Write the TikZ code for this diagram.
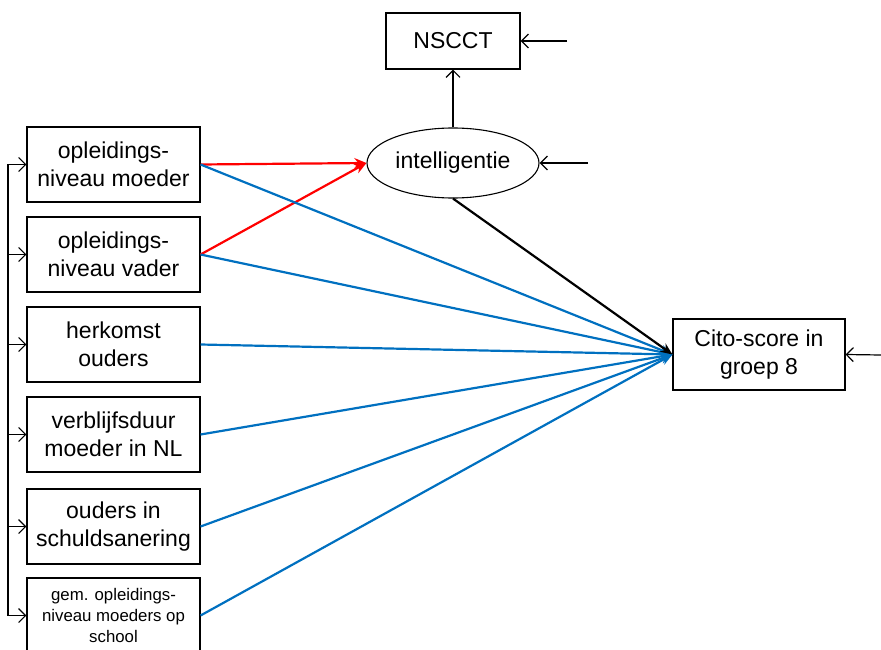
\documentclass[tikz,border=0pt]{standalone}
\usepackage{fontspec}
\setmainfont{Liberation Sans}
\usetikzlibrary{shapes.geometric,arrows.meta}
\definecolor{pathblue}{RGB}{0,112,192}
\begin{document}
\begin{tikzpicture}[x=1pt,y=-1pt,
  var/.style={draw,line width=1.1pt,minimum width=173pt,minimum height=75pt,inner sep=0pt,align=center,font=\fontsize{23}{28}\selectfont},
  latent/.style={draw,ellipse,line width=1.1pt,minimum width=172pt,minimum height=70pt,inner sep=0pt,font=\fontsize{23}{28}\selectfont},
  err/.style={line width=1.2pt,-{Straight Barb[length=7pt,width=14pt]}},
  redpath/.style={red,line width=2.2pt,-{Stealth[length=12pt,width=10pt]}},
  bluepath/.style={pathblue,line width=2.2pt,-{Stealth[length=12pt,width=10pt]}}]
\useasboundingbox (0,0) rectangle (881,650);
% exogenous variables
\node[var] (b1) at (113.5,164.5) {opleidings-\\niveau moeder};
\node[var] (b2) at (113.5,254.5) {opleidings-\\niveau vader};
\node[var] (b3) at (113.5,344.5) {herkomst\\ouders};
\node[var] (b4) at (113.5,434.5) {verblijfsduur\\moeder in NL};
\node[var] (b5) at (113.5,526.5) {ouders in\\schuldsanering};
\node[var,font=\fontsize{16.8}{21}\selectfont] (b6) at (113.5,615.5) {gem. opleidings-\\niveau moeders op\\school};
% latent and outcomes
\node[latent] (intel) at (453,163) {intelligentie};
\node[var,minimum width=134pt,minimum height=56pt] (nscct) at (453,41) {NSCCT};
\node[var,minimum width=172pt,minimum height=71pt] (cito) at (759,354.5) {Cito-score in\\groep 8};
% correlations
\foreach \i/\y in {1/164.5,2/254.5,3/344.5,4/434.5,5/526.5,6/615.5}
  \coordinate (bk\i) at (8,\y);
\draw[line width=1.2pt] (bk1) -- (bk6);
\foreach \i in {1,...,6}
  \draw[err] (bk\i) -- (b\i.west);
% residuals
\coordinate (eN) at (567,41);
\coordinate (eI) at (588,163);
\coordinate (eC) at (881,355);
\draw[err] (eN) -- (nscct.east);
\draw[err] (eI) -- (intel.east);
\draw[err] (eC) -- (cito.east);
\draw[err] (intel.north) -- (nscct.south);
% paths
\draw[redpath] (b1.east) -- (intel.west);
\draw[redpath] (b2.east) -- (intel.west);
\foreach \i in {1,...,6}
  \draw[bluepath] (b\i.east) -- (cito.west);
\draw[line width=2.2pt,-{Stealth[length=12pt,width=10pt]}] (intel.south) -- (cito.west);
\end{tikzpicture}
\end{document}
